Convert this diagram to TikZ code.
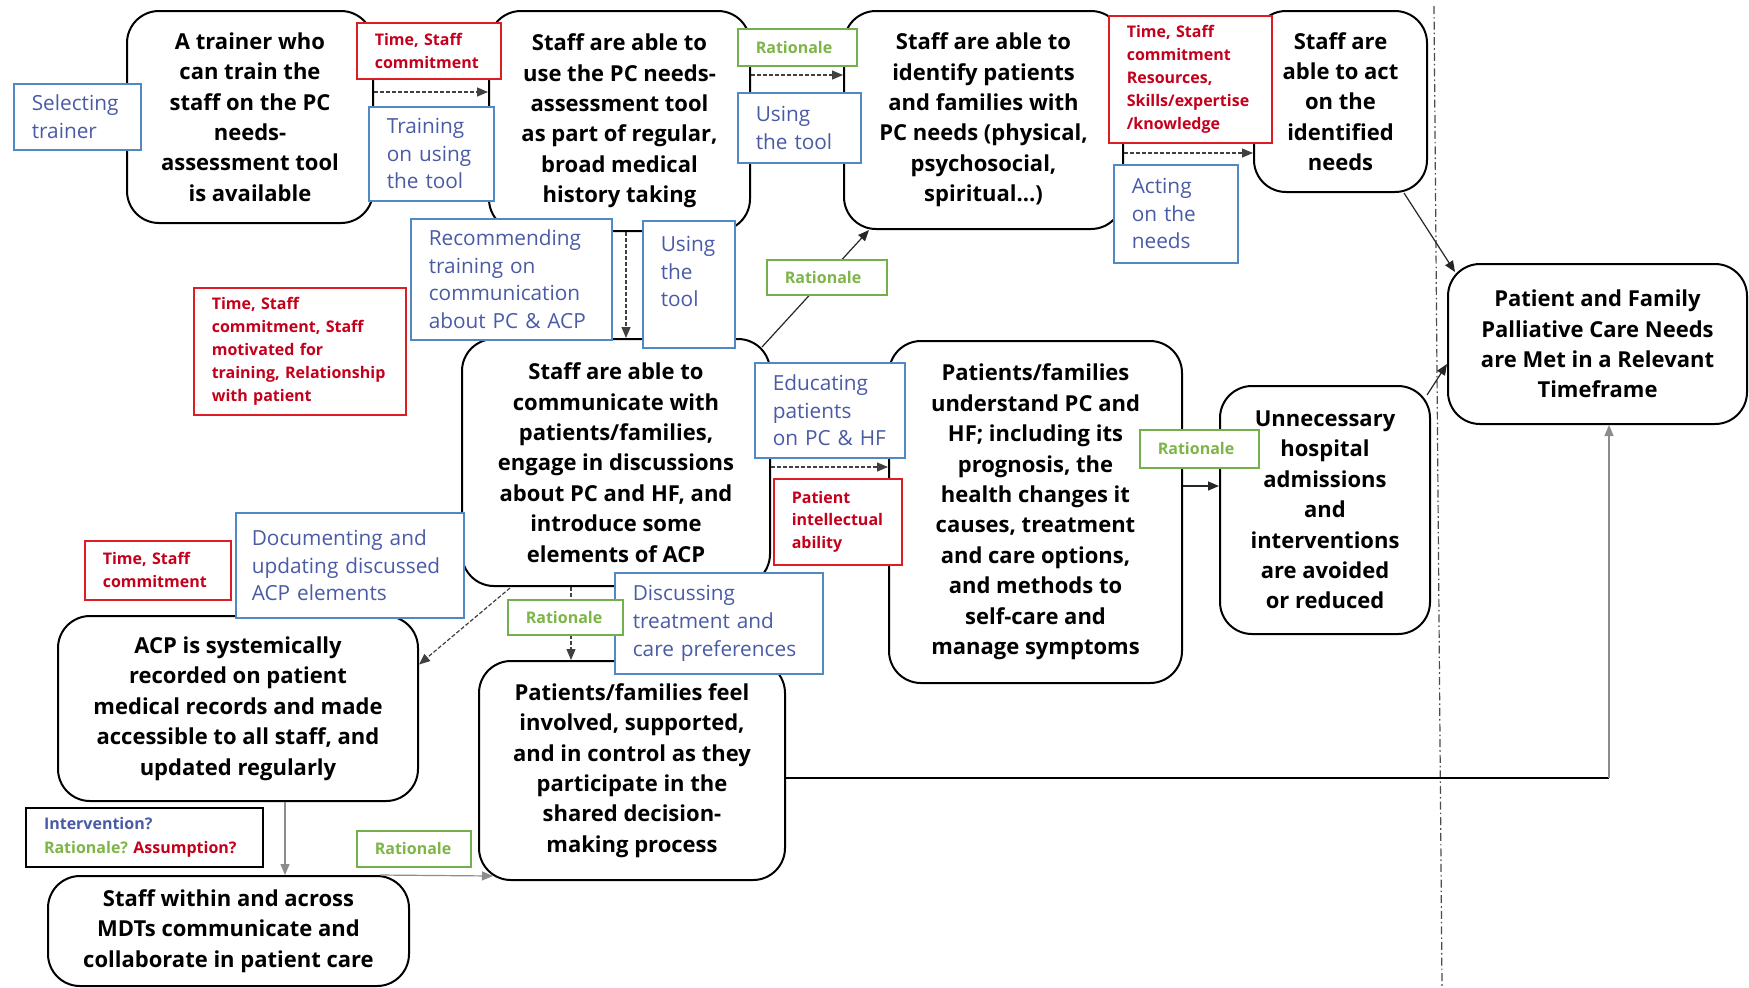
\documentclass[tikz,border=0pt]{standalone}
\usepackage{fontspec}
\setmainfont{Open Sans}
\usetikzlibrary{arrows.meta}
\hyphenpenalty=10000
\exhyphenpenalty=10000
\frenchspacing
\definecolor{bluetxt}{HTML}{4A5BA6}
\definecolor{blueline}{HTML}{5089C6}
\definecolor{redtxt}{HTML}{C4001C}
\definecolor{redline}{HTML}{DC1E24}
\definecolor{greentxt}{HTML}{7DB548}
\definecolor{greenline}{HTML}{74B04A}
\begin{document}
\begin{tikzpicture}[x=0.5pt,y=-0.5pt,
  outcome/.style={draw=black, line width=1pt, rounded corners=16pt, fill=white,
    anchor=north west, align=center, inner sep=2pt,
    font=\bfseries\fontsize{11}{15.2}\selectfont},
  lblbase/.style={fill=white, line width=0.8pt, anchor=north west, align=left,
    inner xsep=9pt, inner ysep=1pt},
  bluebox/.style={lblbase, draw=blueline, text=bluetxt,
    font=\fontsize{10.4}{13.8}\selectfont},
  redbox/.style={lblbase, draw=redline, text=redtxt,
    font=\bfseries\fontsize{8}{11.4}\selectfont},
  greenbox/.style={lblbase, draw=greenline, text=greentxt,
    font=\bfseries\fontsize{8}{11}\selectfont},
  keybox/.style={lblbase, draw=black, line width=1pt,
    font=\bfseries\fontsize{8}{12}\selectfont},
  flow/.style={-{Triangle[length=5.5pt,width=4.5pt]}, line width=0.6pt, draw=black!85},
  dflow/.style={flow, dash pattern=on 2pt off 1pt, draw=black!75},
  graylink/.style={flow, draw=black!45},
  divider/.style={draw=black!70, line width=0.6pt,
    dash pattern=on 4pt off 1.5pt on 0.8pt off 1.5pt}
]
\fill[white] (0,0) rectangle (1749,987);
\useasboundingbox (0,0) rectangle (1749,987);

% outcome boxes
\node[outcome, minimum width=123pt, minimum height=106pt] (A) at (126,10)
  {A trainer who\\can train the\\staff on the PC\\needs-\\assessment tool\\is available};
\node[outcome, minimum width=130.5pt, minimum height=110pt] (B) at (488,10)
  {Staff are able to\\use the PC needs-\\assessment tool\\as part of regular,\\broad medical\\history taking};
\node[outcome, minimum width=139.5pt, minimum height=109pt] (C) at (843,10)
  {Staff are able to\\identify patients\\and families with\\PC needs (physical,\\psychosocial,\\spiritual…)};
\node[outcome, minimum width=86.5pt, minimum height=90.5pt] (D) at (1253,10)
  {Staff are\\able to act\\on the\\identified\\needs};
\node[outcome, minimum width=149.5pt, minimum height=80pt] (E) at (1447,263)
  {Patient and Family\\Palliative Care Needs\\are Met in a Relevant\\Timeframe};
\node[outcome, minimum width=154pt, minimum height=123.5pt] (F) at (461,338)
  {Staff are able to\\communicate with\\patients/families,\\engage in discussions\\about PC and HF, and\\introduce some\\elements of ACP};
\node[outcome, minimum width=146.5pt, minimum height=171pt] (G) at (888,340)
  {Patients/families\\understand PC and\\HF; including its\\prognosis, the\\health changes it\\causes, treatment\\and care options,\\and methods to\\self-care and\\manage symptoms};
\node[outcome, minimum width=105pt, minimum height=124pt] (H) at (1219,385)
  {Unnecessary\\hospital\\admissions\\and\\interventions\\are avoided\\or reduced};
\node[outcome, minimum width=180pt, minimum height=92.5pt] (I) at (57,615)
  {ACP is systemically\\recorded on patient\\medical records and made\\accessible to all staff, and\\updated regularly};
\node[outcome, minimum width=153pt, minimum height=109.5pt] (J) at (478,660)
  {Patients/families feel\\involved, supported,\\and in control as they\\participate in the\\shared decision-\\making process};
\node[outcome, minimum width=180.5pt, minimum height=55pt] (K) at (47,875)
  {Staff within and across\\MDTs communicate and\\collaborate in patient care};

% boundary between the chain and the long-term outcome
\draw[divider] (1434,6) -- (1442,987);

% levels used by the connectors
\coordinate (yAB) at (0,92);
\coordinate (yBC) at (0,75);
\coordinate (yCD) at (0,153);
\coordinate (xBF) at (626,0);
\coordinate (yFG) at (0,467);
\coordinate (yGH) at (0,486);
\coordinate (yJE) at (0,778);
\coordinate (cJE) at (1609,778);
\coordinate (xIK) at (285,0);
\coordinate (xFJ) at (571,0);

% connectors
\draw[dflow] (A.east |- yAB) -- (B.west |- yAB);
\draw[dflow] (B.east |- yBC) -- (C.west |- yBC);
\draw[dflow] (C.east |- yCD) -- (D.west |- yCD);
\draw[dflow] (B.south -| xBF) -- (F.north -| xBF);
\draw[flow] ([shift={(-9,9)}]F.north east) -- ([shift={(26,0)}]C.south west);
\draw[dflow] (F.east |- yFG) -- (G.west |- yFG);
\draw[flow] (G.east |- yGH) -- (H.west |- yGH);
\draw[flow] ([shift={(-4,10)}]H.north east) -- ([shift={(0,20)}]E.west);
\draw[flow] ([shift={(-24,0)}]D.south east) -- ([shift={(8,9)}]E.north west);
\draw[line width=1pt] (J.east |- yJE) -- (cJE);
\draw[graylink] (cJE) -- (cJE |- E.south);
\draw[graylink] (I.south -| xIK) -- (K.north -| xIK);
\draw[graylink] ([shift={(-30,0)}]K.north east) -- ([shift={(15,-5)}]J.south west);
\draw[dflow] ([shift={(49,1)}]F.south west) -- ([shift={(0,-44)}]I.east);
\draw[dflow] (F.south -| xFJ) -- (J.north -| xFJ);

% activities (blue)
\node[bluebox, text width=45.5pt, minimum height=33pt] (selTrainer) at (13,83) {Selecting\\trainer};
\node[bluebox, text width=44.5pt, minimum height=47pt] (trainUse) at (368,106) {Training\\on using\\the tool};
\node[bluebox, text width=43.5pt, minimum height=35pt] (useTop) at (737,92) {Using\\the tool};
\node[bluebox, text width=44pt, minimum height=49pt] (acting) at (1113,164) {Acting\\on the\\needs};
\node[bluebox, text width=82.5pt, minimum height=60.5pt] (recommend) at (410,218)
  {Recommending\\training on\\communication\\about PC \& ACP};
\node[bluebox, text width=28pt, minimum height=63.5pt] (useMid) at (642,220) {Using\\the\\tool\\[-1pt]\mbox{}};
\node[bluebox, text width=57pt, minimum height=47.5pt] (educating) at (754,362) {Educating\\patients\\on PC \& HF};
\node[bluebox, text width=98pt, inner xsep=8pt, minimum height=52.5pt] (documenting) at (235,512)
  {Documenting and\\updating discussed\\ACP elements};
\node[bluebox, text width=86pt, minimum height=50.5pt] (discussing) at (614,572)
  {Discussing\\treatment and\\care preferences};

% assumptions (red)
\node[redbox, text width=54pt, minimum height=28pt] (redTop1) at (356,22) {Time, Staff\\commitment};
\node[redbox, text width=63.5pt, minimum height=63.5pt] (redTop2) at (1108,15)
  {Time, Staff\\commitment\\Resources,\\Skills/expertise\\/knowledge};
\node[redbox, text width=88pt, minimum height=63.5pt] (redMid) at (193,287)
  {Time, Staff\\commitment, Staff\\motivated for\\training, Relationship\\with patient};
\node[redbox, text width=46pt, minimum height=43pt] (intellect) at (773,478) {Patient\\intellectual\\ability};
\node[redbox, text width=55pt, minimum height=29.5pt] (redLow) at (84,540) {Time, Staff\\commitment};

% rationales (green)
\node[greenbox, text width=41.5pt, minimum height=18.5pt] (ratTop) at (737,28) {Rationale};
\node[greenbox, text width=42pt, minimum height=17.5pt] (ratMid) at (766,259) {Rationale};
\node[greenbox, text width=41.5pt, minimum height=19pt] (ratRight) at (1139,429) {Rationale};
\node[greenbox, text width=39.5pt, minimum height=17.5pt] (ratLowA) at (507,599) {Rationale};
\node[greenbox, text width=39pt, minimum height=18pt] (ratLowB) at (356,830) {Rationale};

% key
\node[keybox, text width=100.5pt, minimum height=29.5pt] (key) at (25,807)
  {\textcolor{bluetxt}{Intervention?}\\\textcolor{greentxt}{Rationale?}\ \textcolor{redtxt}{Assumption?}};
\end{tikzpicture}
\end{document}
